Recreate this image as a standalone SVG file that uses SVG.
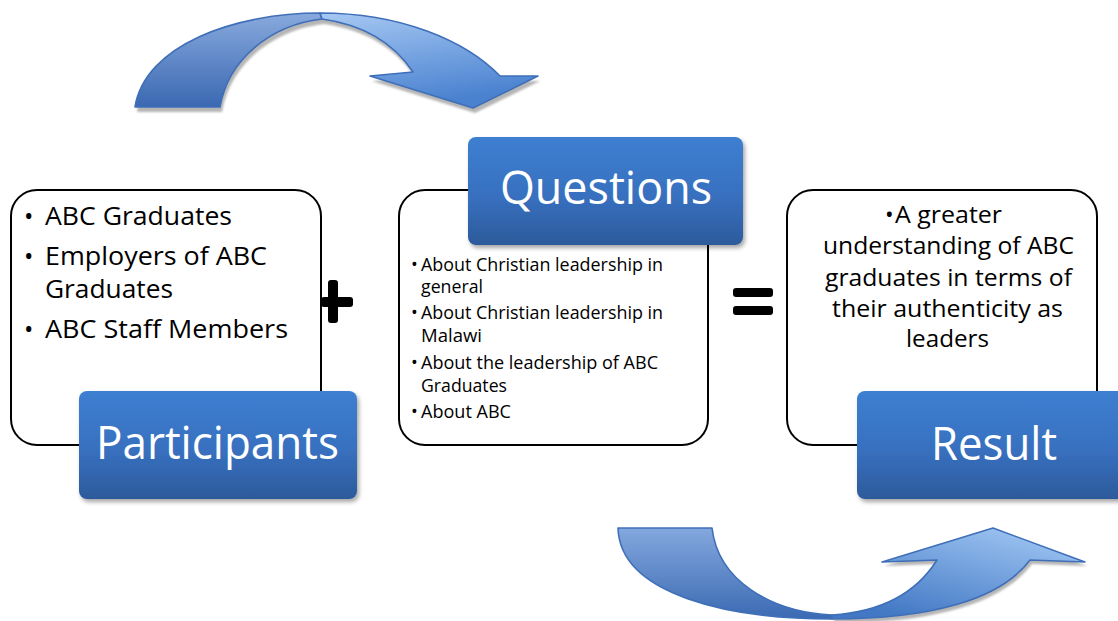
<svg xmlns="http://www.w3.org/2000/svg" width="1118" height="621" viewBox="0 0 1118 621">
  <defs>
    <linearGradient id="boxBlue" x1="0" y1="0" x2="0" y2="1">
      <stop offset="0" stop-color="#3d7fd1"/>
      <stop offset="0.55" stop-color="#3870bf"/>
      <stop offset="1" stop-color="#2c5a9b"/>
    </linearGradient>
    <linearGradient id="bandDark" x1="0" y1="0" x2="0" y2="1">
      <stop offset="0" stop-color="#88a9dd"/>
      <stop offset="1" stop-color="#3a68b2"/>
    </linearGradient>
    <linearGradient id="bandLightTop" x1="0" y1="0" x2="0.3" y2="1">
      <stop offset="0" stop-color="#a6c8f3"/>
      <stop offset="1" stop-color="#4a82d0"/>
    </linearGradient>
    <linearGradient id="bandDarkBottom" x1="0" y1="0" x2="0" y2="1">
      <stop offset="0" stop-color="#84a8de"/>
      <stop offset="1" stop-color="#3b6ab3"/>
    </linearGradient>
    <linearGradient id="bandLightBottom" x1="1" y1="0" x2="0.3" y2="1">
      <stop offset="0" stop-color="#a9cef8"/>
      <stop offset="1" stop-color="#4278c4"/>
    </linearGradient>
    <filter id="boxShadow" x="-10%" y="-10%" width="125%" height="130%">
      <feDropShadow dx="2" dy="3" stdDeviation="2" flood-color="#000" flood-opacity="0.35"/>
    </filter>
    <filter id="soft" x="-10%" y="-10%" width="120%" height="130%">
      <feGaussianBlur stdDeviation="1"/>
    </filter>
  </defs>
  <style>
    .frame { fill: #ffffff; stroke: #000000; stroke-width: 2; }
    .title { fill: url(#boxBlue); filter: url(#boxShadow); }
    .titleText { font-family: "Open Sans", "Liberation Sans", sans-serif; font-size: 45px; fill: #ffffff; }
    .big { font-family: "Open Sans", "Liberation Sans", sans-serif; font-size: 25px; fill: #000000; }
    .small { font-family: "Open Sans", "Liberation Sans", sans-serif; font-size: 18px; fill: #000000; }
    .mid { font-family: "Open Sans", "Liberation Sans", sans-serif; font-size: 23px; fill: #000000; }
    .band { stroke: #3f6fb8; stroke-width: 1.6; stroke-linejoin: round; }
    .shade { fill: #b5b5b5; filter: url(#soft); }
    .sign { fill: #000000; }
  </style>

  <!-- curved arrows -->
  <g id="connectors">
    <g id="arrow-top">
      <g class="shade" transform="translate(2,5)">
        <path d="M135,107 C145,45 235,13 320,13 C400,13 465,40 500,76 L538,76 L473,108 L370,76 L413,72 C395,45 365,25 322,19 C270,25 228,60 220,107 Z"/>
      </g>
      <path class="band" fill="url(#bandDark)" d="M135,107 C145,45 235,13 320,13 L322,19 C270,25 228,60 220,107 Z"/>
      <path class="band" fill="url(#bandLightTop)" d="M320,13 C400,13 465,40 500,76 L538,76 L473,108 L370,76 L413,72 C395,45 365,25 322,19 Z"/>
    </g>
    <g id="arrow-bottom">
      <g class="shade" transform="translate(2,4)">
        <path d="M1030,560 L1085,562 L993,528 L882,562 L937,560 C915,595 880,612 832,615 L832,619 C930,619 1000,600 1030,560 Z"/>
      </g>
      <path class="band" fill="url(#bandDarkBottom)" d="M618,528 L712,528 C718,580 770,612 832,615 L832,619 C730,619 620,595 618,528 Z"/>
      <path class="band" fill="url(#bandLightBottom)" d="M832,619 C930,619 1000,600 1030,560 L1085,562 L993,528 L882,562 L937,560 C915,595 880,612 832,615 Z"/>
    </g>
  </g>

  <!-- participants -->
  <g id="participants">
    <rect class="frame" x="11" y="190" width="310" height="255" rx="26"/>
    <text class="big" x="24" y="225">•</text>
    <text class="big" x="45" y="225" textLength="187" lengthAdjust="spacingAndGlyphs">ABC Graduates</text>
    <text class="big" x="24" y="265">•</text>
    <text class="big" x="45" y="265" textLength="222" lengthAdjust="spacingAndGlyphs">Employers of ABC</text>
    <text class="big" x="45" y="298" textLength="128" lengthAdjust="spacingAndGlyphs">Graduates</text>
    <text class="big" x="24" y="338">•</text>
    <text class="big" x="45" y="338" textLength="243" lengthAdjust="spacingAndGlyphs">ABC Staff Members</text>
    <rect class="title" x="79" y="391" width="278" height="108" rx="8"/>
    <text class="titleText" x="96" y="459" textLength="243" lengthAdjust="spacingAndGlyphs">Participants</text>
  </g>

  <!-- plus sign -->
  <g id="plus">
    <rect class="sign" x="328" y="280" width="10" height="43" rx="3"/>
    <rect class="sign" x="321" y="297" width="32" height="10" rx="3"/>
  </g>

  <!-- questions -->
  <g id="questions">
    <rect class="frame" x="399" y="190" width="309" height="255" rx="26"/>
    <text class="small" x="411" y="271">•</text>
    <text class="small" x="421" y="271" textLength="242" lengthAdjust="spacingAndGlyphs">About Christian leadership in</text>
    <text class="small" x="421" y="293" textLength="62" lengthAdjust="spacingAndGlyphs">general</text>
    <text class="small" x="411" y="319">•</text>
    <text class="small" x="421" y="319" textLength="242" lengthAdjust="spacingAndGlyphs">About Christian leadership in</text>
    <text class="small" x="421" y="342" textLength="61" lengthAdjust="spacingAndGlyphs">Malawi</text>
    <text class="small" x="411" y="369">•</text>
    <text class="small" x="421" y="369" textLength="237" lengthAdjust="spacingAndGlyphs">About the leadership of ABC</text>
    <text class="small" x="421" y="392" textLength="86" lengthAdjust="spacingAndGlyphs">Graduates</text>
    <text class="small" x="411" y="418">•</text>
    <text class="small" x="421" y="418" textLength="90" lengthAdjust="spacingAndGlyphs">About ABC</text>
    <rect class="title" x="468" y="137" width="275" height="108" rx="8"/>
    <text class="titleText" x="500" y="204" textLength="212" lengthAdjust="spacingAndGlyphs">Questions</text>
  </g>

  <!-- equals sign -->
  <g id="equals">
    <rect class="sign" x="733" y="288" width="40" height="9" rx="3"/>
    <rect class="sign" x="733" y="306" width="40" height="9" rx="3"/>
  </g>

  <!-- result -->
  <g id="result">
    <rect class="frame" x="787" y="190" width="310" height="255" rx="26"/>
    <text class="mid" x="885" y="223">•</text>
    <text class="mid" x="895" y="223" textLength="107" lengthAdjust="spacingAndGlyphs">A greater</text>
    <text class="mid" x="823" y="254" textLength="251" lengthAdjust="spacingAndGlyphs">understanding of ABC</text>
    <text class="mid" x="825" y="286" textLength="247" lengthAdjust="spacingAndGlyphs">graduates in terms of</text>
    <text class="mid" x="832" y="317" textLength="231" lengthAdjust="spacingAndGlyphs">their authenticity as</text>
    <text class="mid" x="906" y="347" textLength="83" lengthAdjust="spacingAndGlyphs">leaders</text>
    <rect class="title" x="857" y="391" width="278" height="108" rx="8"/>
    <text class="titleText" x="931" y="460" textLength="126" lengthAdjust="spacingAndGlyphs">Result</text>
  </g>
</svg>
